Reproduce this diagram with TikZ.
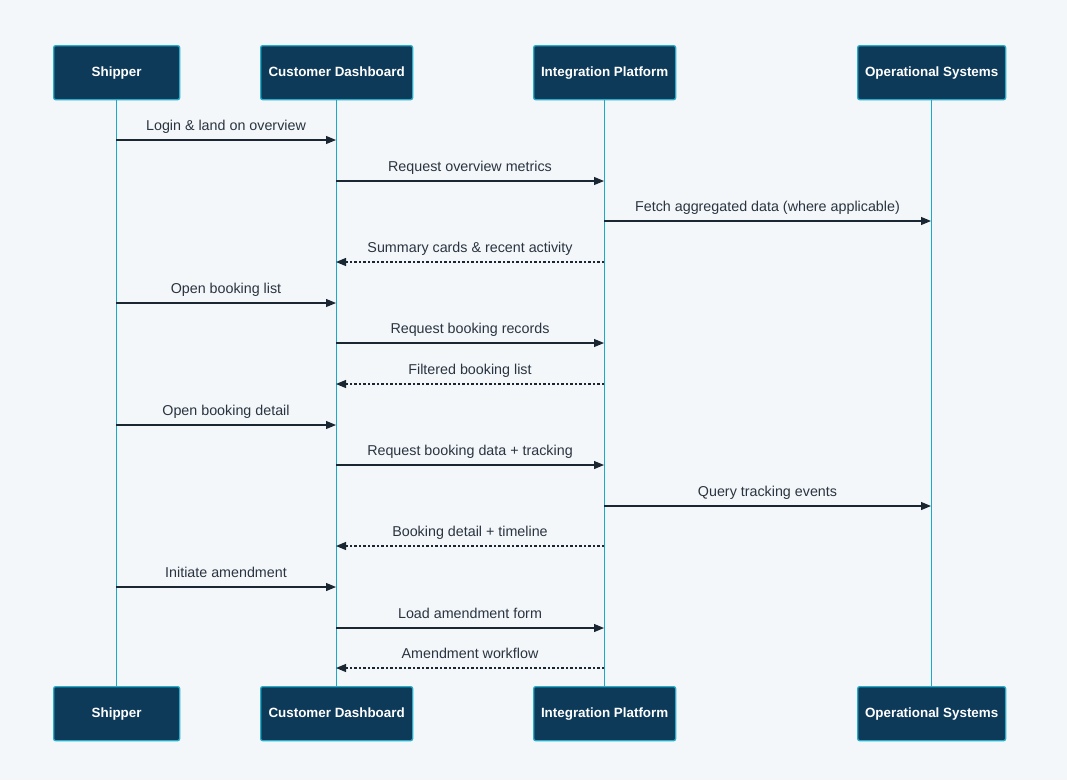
\documentclass[tikz,border=0pt]{standalone}
\usepackage{fontspec}
\setmainfont{Liberation Sans}
\usetikzlibrary{arrows.meta,calc}
\definecolor{bg}{HTML}{F3F7FA}
\definecolor{boxfill}{HTML}{0E3A5A}
\definecolor{boxline}{HTML}{27AECB}
\definecolor{life}{HTML}{1AA9CB}
\definecolor{msg}{HTML}{1B2633}
\definecolor{txt}{HTML}{2A3440}
\tikzset{
  actor/.style={draw=boxline, line width=1.3pt, fill=boxfill, rounded corners=2pt, text=white, font=\fontsize{13.4}{15}\selectfont\bfseries, anchor=north west, inner sep=0pt, text height=9.6pt, text depth=2.6pt},
  lifeline/.style={draw=life, line width=1.5pt},
  call/.style={draw=msg, line width=1.1pt, -{Triangle[length=10pt,width=8pt]}},
  reply/.style={call, dash pattern=on 2.5pt off 2pt},
  lbl/.style={text=txt, font=\fontsize{14.3}{16}\selectfont, anchor=base},
}
\begin{document}
\begin{tikzpicture}[x=1pt,y=-1pt]
\fill[bg] (0,0) rectangle (1067,780);
\useasboundingbox (0,0) rectangle (1067,780);
% top actors
\node[actor, minimum width=126pt, minimum height=54pt] (s1) at (53,45) {Shipper};
\node[actor, minimum width=152pt, minimum height=54pt] (c1) at (260,45) {Customer Dashboard};
\node[actor, minimum width=142pt, minimum height=54pt] (i1) at (533,45) {Integration Platform};
\node[actor, minimum width=148pt, minimum height=54pt] (o1) at (857,45) {Operational Systems};
% bottom actors
\node[actor, minimum width=126pt, minimum height=54pt] (s2) at (53,686) {Shipper};
\node[actor, minimum width=152pt, minimum height=54pt] (c2) at (260,686) {Customer Dashboard};
\node[actor, minimum width=142pt, minimum height=54pt] (i2) at (533,686) {Integration Platform};
\node[actor, minimum width=148pt, minimum height=54pt] (o2) at (857,686) {Operational Systems};
% lifelines
\draw[lifeline] (s1.south) -- (s2.north);
\draw[lifeline] (c1.south) -- (c2.north);
\draw[lifeline] (i1.south) -- (i2.north);
\draw[lifeline] (o1.south) -- (o2.north);
% messages
\def\S{116}\def\C{336}\def\I{604}\def\O{931}
\foreach \fx/\tx/\yy/\st/\lab [count=\k] in {
  \S/\C/140/call/{Login \& land on overview},
  \C/\I/181/call/{Request overview metrics},
  \I/\O/221/call/{Fetch aggregated data (where applicable)},
  \I/\C/262/reply/{Summary cards \& recent activity},
  \S/\C/303/call/{Open booking list},
  \C/\I/343/call/{Request booking records},
  \I/\C/384/reply/{Filtered booking list},
  \S/\C/425/call/{Open booking detail},
  \C/\I/465/call/{Request booking data + tracking},
  \I/\O/506/call/{Query tracking events},
  \I/\C/546/reply/{Booking detail + timeline},
  \S/\C/587/call/{Initiate amendment},
  \C/\I/628/call/{Load amendment form},
  \I/\C/668/reply/{Amendment workflow}
}{
  \coordinate (m\k a) at (\fx,\yy);
  \coordinate (m\k b) at (\tx,\yy);
  \draw[\st] (m\k a) -- (m\k b);
  \node[lbl] (t\k) at ($(m\k a)!0.5!(m\k b)+(0,-10)$) {\lab};
}
\end{tikzpicture}
\end{document}
